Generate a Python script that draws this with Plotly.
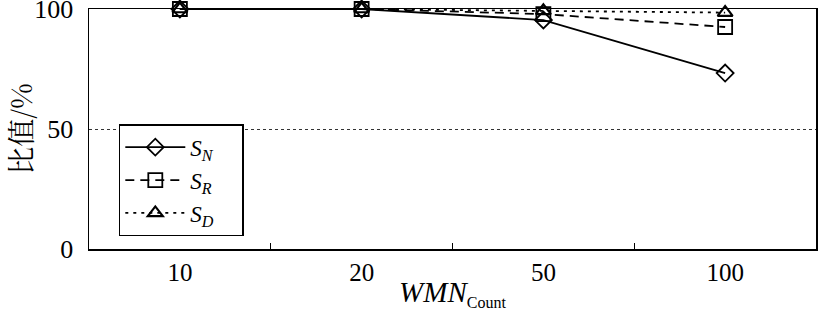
import plotly.graph_objects as go

categories = ["10", "20", "50", "100"]
s_n = [100, 100, 95.4, 73.3]
s_r = [100, 100, 97.9, 92.5]
s_d = [100, 100, 99.2, 98.5]
names = ["<i>S</i><sub><i>N</i></sub>", "<i>S</i><sub><i>R</i></sub>", "<i>S</i><sub><i>D</i></sub>"]
y_ticks = [0, 50, 100]

FONT = "Liberation Serif, Times New Roman, serif"
PAD = "&nbsp;&nbsp;&nbsp;&nbsp;"

fig = go.Figure()
fig.add_trace(go.Scatter(x=categories, y=s_n, name=names[0] + PAD, mode="lines+markers",
                         line=dict(color="black", width=1.8, dash="solid"),
                         marker=dict(symbol="diamond-open", size=13, color="black", line=dict(width=1.8)),
                         cliponaxis=False))
fig.add_trace(go.Scatter(x=categories, y=s_r, name=names[1] + PAD, mode="lines+markers",
                         line=dict(color="black", width=1.8, dash="9px,6px"),
                         marker=dict(symbol="square-open", size=14, color="black", line=dict(width=1.8)),
                         cliponaxis=False))
fig.add_trace(go.Scatter(x=categories, y=s_d, name=names[2] + PAD, mode="lines+markers",
                         line=dict(color="black", width=1.8, dash="3px,5px"),
                         marker=dict(symbol="triangle-up-open", size=13, color="black", line=dict(width=2.2)),
                         cliponaxis=False))

fig.update_layout(
    width=818, height=311,
    margin=dict(l=89, r=2, t=9, b=62, autoexpand=False),
    paper_bgcolor="white", plot_bgcolor="white",
    font=dict(family=FONT, size=25, color="black"),
    showlegend=True,
    hovermode=False,
    legend=dict(x=0.041, y=0.52, xanchor="left", yanchor="top",
                bordercolor="black", borderwidth=1.5, bgcolor="white",
                font=dict(family=FONT, size=23), itemwidth=60,
                tracegroupgap=0),
    xaxis=dict(type="category", range=[-0.5, 3.5], showline=True, linecolor="black", linewidth=1.5, mirror=True,
               ticks="inside", tickson="boundaries", ticklen=6, tickcolor="black", tickwidth=1.2,
               showgrid=False, zeroline=False, automargin=False,
               tickfont=dict(family=FONT, size=25),
               title=dict(text="<i>WMN</i><sub><span style='font-size:16px'>Count</span></sub>",
                          font=dict(family=FONT, size=29), standoff=8)),
    yaxis=dict(range=[0, 100], tickvals=y_ticks, showline=True, linecolor="black", linewidth=1.5, mirror=True,
               ticks="", showgrid=True, gridcolor="black", gridwidth=0.8, griddash="dot", zeroline=False,
               ticklabeloverflow="allow", automargin=False, ticklabelstandoff=9,
               tickfont=dict(family=FONT, size=26),
               title=dict(text="比值/%", font=dict(family="Noto Serif CJK SC, Noto Sans CJK SC, " + FONT, size=28), standoff=4)),
)

fig.write_html("out.html", config={"displayModeBar": False, "staticPlot": True},
               post_script="document.body.style.margin='0';")
